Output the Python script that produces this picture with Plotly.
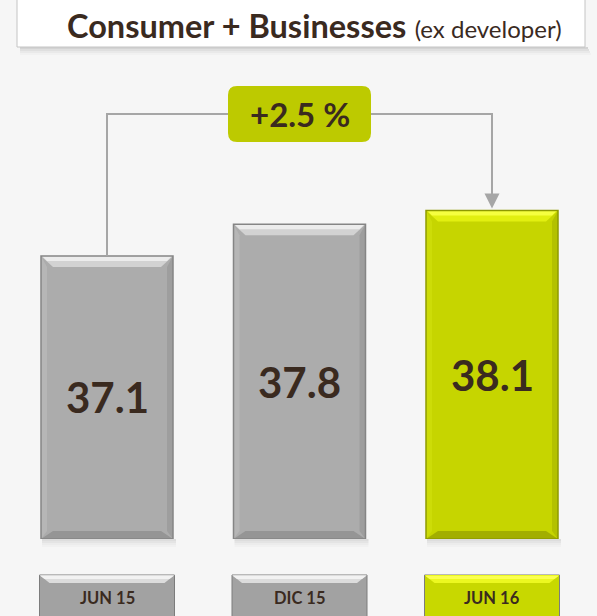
import plotly.graph_objects as go

# ---- data -------------------------------------------------------------
periods = ["JUN 15", "DIC 15", "JUN 16"]
values = [37.1, 37.8, 38.1]
change_label = "+2.5 %"
title_main = "Consumer + Businesses"
title_sub = "(ex developer)"

# ---- layout geometry (pixels) ------------------------------------------
W, H = 597, 616
MB = 77                      # bottom margin below the bar baseline
PH = H - MB                  # plot-area height
PX_X = 192.5                 # pixels per category step
X_FIRST = 107                # pixel centre of the first category
PX_Y = 45.3                  # pixels per value unit
Y0 = 30.85                   # value at the bar baseline
Y1 = Y0 + PH / PX_Y
X_LO = -X_FIRST / PX_X
X_HI = (W - X_FIRST) / PX_X
BAR_W = 132 / PX_X

BG = "#f6f6f6"
TXT = "#3a2a1f"
FONT = "Lato"
LINE = "#a6a6a6"

GRAY = dict(face="#acacac", top="#d2d2d2", top2="#ececec", left="#b6b6b6",
            right="#9e9e9e", bottom="#959595", edge="#858585",
            lab="#a2a2a2", labtop="#dcdcdc", labtop2="#f2f2f2")
LIME = dict(face="#c6d500", top="#e2ef10", top2="#f6ff40", left="#cddc08",
            right="#b3c100", bottom="#a2ae00", edge="#8f9a00",
            lab="#c8d800", labtop="#ecf820", labtop2="#fbff50")
palettes = [GRAY, GRAY, LIME]


def dx(p):
    return p / PX_X


def dy(p):
    return p / PX_Y


def py(row):
    """paper y for a pixel row measured from the top of the page"""
    return (PH - row) / PH


def pxp(col):
    return col / W


def poly(pts):
    return "M " + " L ".join(f"{a:.5f},{b:.5f}" for a, b in pts) + " Z"


def label(x, y, text, size, xref="x", yref="y"):
    return dict(x=x, y=y, xref=xref, yref=yref, text=text, showarrow=False,
                xanchor="center", yanchor="middle",
                font=dict(family=FONT, size=size, color=TXT))


shapes = []
annotations = []

fig = go.Figure()
fig.add_trace(go.Bar(
    x=list(range(len(values))), y=values, width=BAR_W,
    marker=dict(color=[p["face"] for p in palettes], line=dict(width=0)),
    hoverinfo="skip", showlegend=False,
))

# ---- bevelled bars ----------------------------------------------------
for i, (v, pal) in enumerate(zip(values, palettes)):
    L, R, T, B = i - BAR_W / 2, i + BAR_W / 2, v, Y0
    s, t, b = dx(12), dy(11), dy(8)
    sd = dx(6)
    # soft drop shadow beneath the bar
    for k, a in enumerate([0.10, 0.07, 0.04, 0.02]):
        shapes.append(dict(type="rect", xref="x", yref="paper",
                           x0=L + dx(1), x1=R + dx(3),
                           y0=py(539 + 2 * k), y1=py(539 + 2 * k + 2),
                           fillcolor=f"rgba(0,0,0,{a})", line=dict(width=0),
                           layer="below"))
    shapes += [
        dict(type="path", xref="x", yref="y", path=poly([(L, B), (L, T), (L + sd, T - t), (L + sd, B + b)]),
             fillcolor=pal["left"], line=dict(width=0)),
        dict(type="path", xref="x", yref="y", path=poly([(R, B), (R, T), (R - sd, T - t), (R - sd, B + b)]),
             fillcolor=pal["right"], line=dict(width=0)),
        dict(type="path", xref="x", yref="y", path=poly([(L, B), (R, B), (R - s, B + b), (L + s, B + b)]),
             fillcolor=pal["bottom"], line=dict(width=0)),
        dict(type="path", xref="x", yref="y", path=poly([(L, T), (R, T), (R - s, T - t), (L + s, T - t)]),
             fillcolor=pal["top"], line=dict(width=0)),
        dict(type="path", xref="x", yref="y",
             path=poly([(L + dx(1), T), (R - dx(1), T), (R - dx(6), T - dy(5)), (L + dx(6), T - dy(5))]),
             fillcolor=pal["top2"], line=dict(width=0)),
        dict(type="rect", xref="x", yref="y", x0=L, x1=R, y0=B, y1=T,
             fillcolor="rgba(0,0,0,0)", line=dict(color=pal["edge"], width=1.5)),
    ]
    annotations.append(label(i, (Y0 + v) / 2, f"<b>{v:.1f}</b>", 42))

    # category label buttons along the bottom
    hl = dx(67.5)
    top_r, bot_r = 575, 640
    shapes += [
        dict(type="rect", xref="x", yref="paper", x0=i - hl, x1=i + hl,
             y0=py(bot_r), y1=py(top_r), fillcolor=pal["lab"],
             line=dict(color="#7c7c7c", width=1)),
        dict(type="path", xref="x", yref="paper",
             path=poly([(i - hl, py(top_r)), (i + hl, py(top_r)),
                        (i + hl - dx(10), py(top_r + 8)), (i - hl + dx(10), py(top_r + 8))]),
             fillcolor=pal["labtop"], line=dict(width=0)),
        dict(type="path", xref="x", yref="paper",
             path=poly([(i - hl + dx(1), py(top_r + 1)), (i + hl - dx(1), py(top_r + 1)),
                        (i + hl - dx(5), py(top_r + 4)), (i - hl + dx(5), py(top_r + 4))]),
             fillcolor=pal["labtop2"], line=dict(width=0)),
    ]
    annotations.append(label(i, py(598), f"<b>{periods[i]}</b>", 16.5, yref="paper"))

# ---- growth connector from first to last bar ---------------------------
first, last = 0, len(values) - 1
YB = Y1 - dy(114)
tip = values[last] + dy(2)
shapes.append(dict(type="path", xref="x", yref="y",
                   path=f"M {first},{values[first]} L {first},{YB} L {last},{YB} L {last},{tip + dy(14)}",
                   line=dict(color=LINE, width=2), fillcolor="rgba(0,0,0,0)"))
shapes.append(dict(type="path", xref="x", yref="y",
                   path=poly([(last - dx(7.5), tip + dy(15)), (last + dx(7.5), tip + dy(15)), (last, tip)]),
                   fillcolor=LINE, line=dict(width=0)))

# rounded badge carrying the change
cx = (first + last) / 2
bw, bh, r = dx(71.5), dy(28), 9
rx, ry = dx(r), dy(r)
badge = (f"M {cx - bw + rx},{YB + bh} L {cx + bw - rx},{YB + bh} "
         f"Q {cx + bw},{YB + bh} {cx + bw},{YB + bh - ry} L {cx + bw},{YB - bh + ry} "
         f"Q {cx + bw},{YB - bh} {cx + bw - rx},{YB - bh} L {cx - bw + rx},{YB - bh} "
         f"Q {cx - bw},{YB - bh} {cx - bw},{YB - bh + ry} L {cx - bw},{YB + bh - ry} "
         f"Q {cx - bw},{YB + bh} {cx - bw + rx},{YB + bh} Z")
shapes.append(dict(type="path", xref="x", yref="y", path=badge,
                   fillcolor="#bdca00", line=dict(width=0)))
annotations.append(label(cx, YB, f"<b>{change_label}</b>", 33))

# ---- title banner --------------------------------------------------------
for k, a in enumerate([0.14, 0.09, 0.05, 0.02]):
    shapes.append(dict(type="rect", xref="paper", yref="paper",
                       x0=pxp(20), x1=pxp(588 + k), y0=py(47 + 2 * k + 2), y1=py(47 + 2 * k),
                       fillcolor=f"rgba(0,0,0,{a})", line=dict(width=0)))
shapes.append(dict(type="rect", xref="paper", yref="paper",
                   x0=pxp(17), x1=pxp(585), y0=py(47), y1=py(-4),
                   fillcolor="#ffffff", line=dict(color="#c4c4c4", width=1)))
annotations.append(label(pxp(314), py(25),
                         f"<b>{title_main}</b> <span style='font-size:24px'>{title_sub}</span>",
                         32.5, xref="paper", yref="paper"))

fig.update_layout(
    width=W, height=H,
    margin=dict(l=0, r=0, t=0, b=MB, pad=0),
    paper_bgcolor=BG, plot_bgcolor=BG,
    bargap=0, showlegend=False,
    xaxis=dict(range=[X_LO, X_HI], visible=False, fixedrange=True),
    yaxis=dict(range=[Y0, Y1], visible=False, fixedrange=True),
    shapes=shapes, annotations=annotations,
)

fig.write_html("out.html")
